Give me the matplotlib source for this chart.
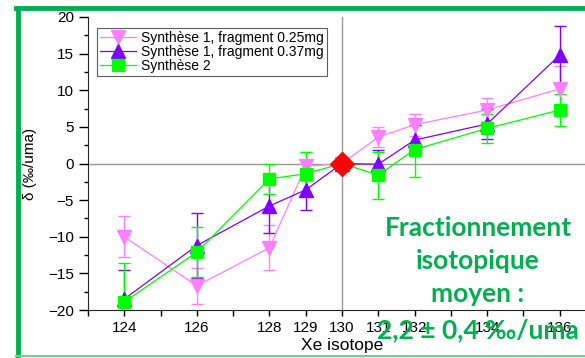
import numpy as np
import matplotlib.pyplot as plt
from matplotlib.lines import Line2D
from matplotlib.ticker import MultipleLocator, FixedLocator

plt.rcParams['font.family'] = ['Liberation Sans', 'DejaVu Sans']

# isotope masses
iso = [124, 126, 128, 129, 130, 131, 132, 134, 136]
tick_labels = ['124', '126', '128', '129', '130', '131', '132', '134', '136']

# Synthese 1, fragment 0.25mg
s1a = [-10.0, -16.7, -11.5, -0.4, 0.0, 3.6, 5.3, 7.3, 10.2]
s1a_err = [2.8, 2.5, 3.1, 2.0, 0.0, 1.4, 1.5, 1.6, 3.1]
# Synthese 1, fragment 0.37mg
s1b = [-18.5, -11.2, -5.8, -3.6, 0.0, -0.1, 3.2, 5.4, 14.8]
s1b_err = [4.0, 4.4, 3.7, 2.7, 0.0, 2.0, 2.0, 2.0, 4.0]
# Synthese 2
s2 = [-18.9, -12.1, -2.1, -1.4, 0.0, -1.6, 1.9, 4.8, 7.3]
s2_err = [5.3, 3.4, 2.1, 3.0, 0.0, 3.2, 3.7, 2.0, 2.2]

c_pink = '#ff80ff'
c_purple = '#8000ff'
c_green = '#00ff00'
c_text = '#00b050'

fig = plt.figure(figsize=(5.85, 3.58), dpi=100)
W, H = 585., 358.
ax = fig.add_axes([88/W, 1-310/H, 508/W, 293/H])

ax.axhline(0, color='#999999', lw=1, zorder=1)
ax.axvline(130, color='#999999', lw=1, zorder=1)

series = [(s1a, s1a_err, c_pink, 'v', 10.5),
          (s1b, s1b_err, c_purple, '^', 10.5),
          (s2, s2_err, c_green, 's', 8.5)]
for y, e, c, m, ms in series:
    ax.errorbar(iso, y, yerr=e, color=c, lw=0.9, elinewidth=1, capsize=4,
                capthick=1, marker=m, ms=ms, mec=c, mfc=c, zorder=3)

ax.plot([130], [0], marker='D', ms=12, color='#ff0000', mec='#ff0000', zorder=5)

ax.set_xlim(123, 137)
ax.set_ylim(-20, 20)
ax.xaxis.set_major_locator(FixedLocator(iso))
ax.set_xticklabels(tick_labels)
ax.xaxis.set_minor_locator(MultipleLocator(1))
ax.yaxis.set_major_locator(MultipleLocator(5))
ax.yaxis.set_minor_locator(MultipleLocator(2.5))
ax.tick_params(axis='y', which='major', direction='out', length=6.5, width=1, labelsize=11)
ax.tick_params(axis='y', which='minor', direction='out', length=3, width=1)
ax.tick_params(axis='x', which='both', direction='out', length=4.5, width=1, labelsize=11)
for s in ['top', 'right']:
    ax.spines[s].set_visible(False)
for s in ['left', 'bottom']:
    ax.spines[s].set_color('#222222')

ax.set_xlabel('Xe isotope', fontsize=12.5, labelpad=2)
ax.set_ylabel('δ (‰/uma)', fontsize=11, labelpad=8)

handles = [Line2D([], [], color=c_pink, marker='v', ms=10, lw=0.9),
           Line2D([], [], color=c_purple, marker='^', ms=10, lw=0.9),
           Line2D([], [], color=c_green, marker='s', ms=8, lw=0.9)]
labels = ['Synthèse 1, fragment 0.25mg', 'Synthèse 1, fragment 0.37mg', 'Synthèse 2']
leg = fig.legend(handles, labels, loc='upper left', bbox_to_anchor=(97/W, 1-28/H),
                 fontsize=10, frameon=True, fancybox=False, edgecolor='#333333',
                 handlelength=2.6, labelspacing=0.0, borderpad=0.2, handletextpad=0.4,
                 borderaxespad=0)
leg.get_frame().set_linewidth(0.8)

txt = ['Fractionnement', 'isotopique', 'moyen :', '2,2 ± 0,4 ‰/uma']
ty = [228, 261, 294, 330]
for t, yy in zip(txt, ty):
    fig.text(478/W, 1-yy/H, t, ha='center', va='center', fontsize=19,
             fontweight='bold', color=c_text, family=['Lato', 'DejaVu Sans'])

# green frame around the slide picture
fig.add_artist(Line2D([17.5/W, 17.5/W], [1-8/H, 1-356/H], color=c_text, lw=3.5))
fig.add_artist(Line2D([16/W, 1.0], [1-8/H, 1-8/H], color=c_text, lw=3.5))
fig.add_artist(Line2D([16/W, 1.0], [1-356/H, 1-356/H], color='#6fd08f', lw=1.5))

fig.savefig('out.png', dpi=100)
